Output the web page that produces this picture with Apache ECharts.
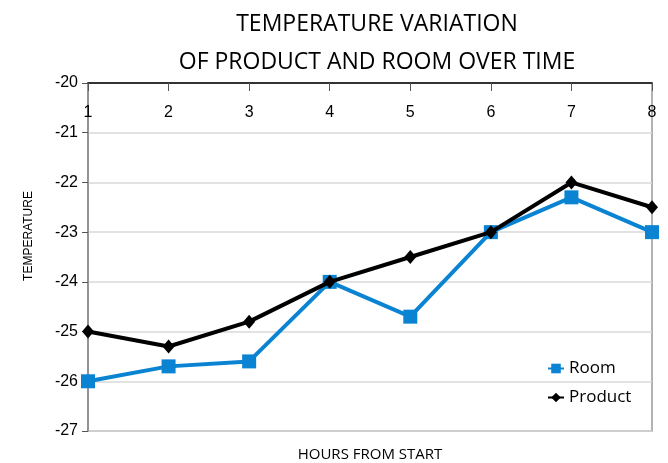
<!DOCTYPE html>
<html>
<head>
<meta charset="utf-8">
<script src="https://cdn.jsdelivr.net/npm/echarts@6/dist/echarts.min.js"></script>
<style>
  html, body { margin: 0; padding: 0; background: #fff; }
  #chart { width: 668px; height: 463px; }
</style>
</head>
<body>
<div id="chart"></div>
<script>
const hours = ['1', '2', '3', '4', '5', '6', '7', '8']
const roomTemp = [-26, -25.7, -25.6, -24, -24.7, -23, -22.3, -23]
const productTemp = [-25, -25.3, -24.8, -24, -23.5, -23, -22, -22.5]

const chart = echarts.init(document.getElementById('chart'))

chart.setOption({
  animation: false,
  title: {
    text: 'TEMPERATURE VARIATION\nOF PRODUCT AND ROOM OVER TIME',
    left: 372,
    textAlign: 'center',
    top: 0,
    textStyle: {
      fontFamily: 'Open Sans',
      fontWeight: 'normal',
      fontSize: 23,
      lineHeight: 38,
      color: '#000'
    }
  },
  legend: {
    orient: 'vertical',
    left: 542,
    top: 355,
    itemWidth: 16,
    itemHeight: 12,
    itemGap: 12,
    textStyle: { fontFamily: 'Open Sans', fontSize: 17, color: '#000' },
    data: ['Room', 'Product']
  },
  grid: {
    left: 88,
    right: 16,
    top: 83,
    bottom: 32,
    outerBoundsMode: 'none',
    show: true,
    borderColor: '#999',
    borderWidth: 1.5
  },
  xAxis: {
    type: 'category',
    data: hours,
    position: 'top',
    boundaryGap: false,
    name: 'HOURS FROM START',
    nameLocation: 'middle',
    nameGap: -379,
    nameTextStyle: { fontFamily: 'Open Sans', fontSize: 15, color: '#000' },
    axisLine: { lineStyle: { color: '#000', width: 1.5 } },
    axisTick: { inside: true, length: 8, lineStyle: { color: '#555' } },
    axisLabel: {
      inside: true,
      margin: 22,
      fontFamily: 'Liberation Sans',
      fontSize: 16,
      color: '#000'
    }
  },
  yAxis: {
    type: 'value',
    min: -27,
    max: -20,
    interval: 1,
    name: 'TEMPERATURE',
    nameLocation: 'middle',
    nameGap: 53,
    nameTextStyle: {
      fontFamily: 'Liberation Sans',
      fontSize: 12,
      color: '#000',
      padding: [0, 0, 0, 42]
    },
    axisLine: { show: true, lineStyle: { color: '#888', width: 1.5 } },
    axisTick: { show: true, length: 6, lineStyle: { color: '#555' } },
    axisLabel: {
      margin: 10,
      fontFamily: 'Liberation Sans',
      fontSize: 16,
      color: '#000'
    },
    splitLine: { lineStyle: { color: '#d9d9d9', width: 1.5 } }
  },
  series: [
    {
      name: 'Room',
      type: 'line',
      data: roomTemp,
      color: '#0a84d2',
      symbol: 'rect',
      symbolSize: 14,
      lineStyle: { width: 4 },
      z: 2
    },
    {
      name: 'Product',
      type: 'line',
      data: productTemp,
      color: '#000',
      symbol: 'diamond',
      symbolSize: [12, 14],
      lineStyle: { width: 4 },
      z: 3
    }
  ]
})
</script>
</body>
</html>
